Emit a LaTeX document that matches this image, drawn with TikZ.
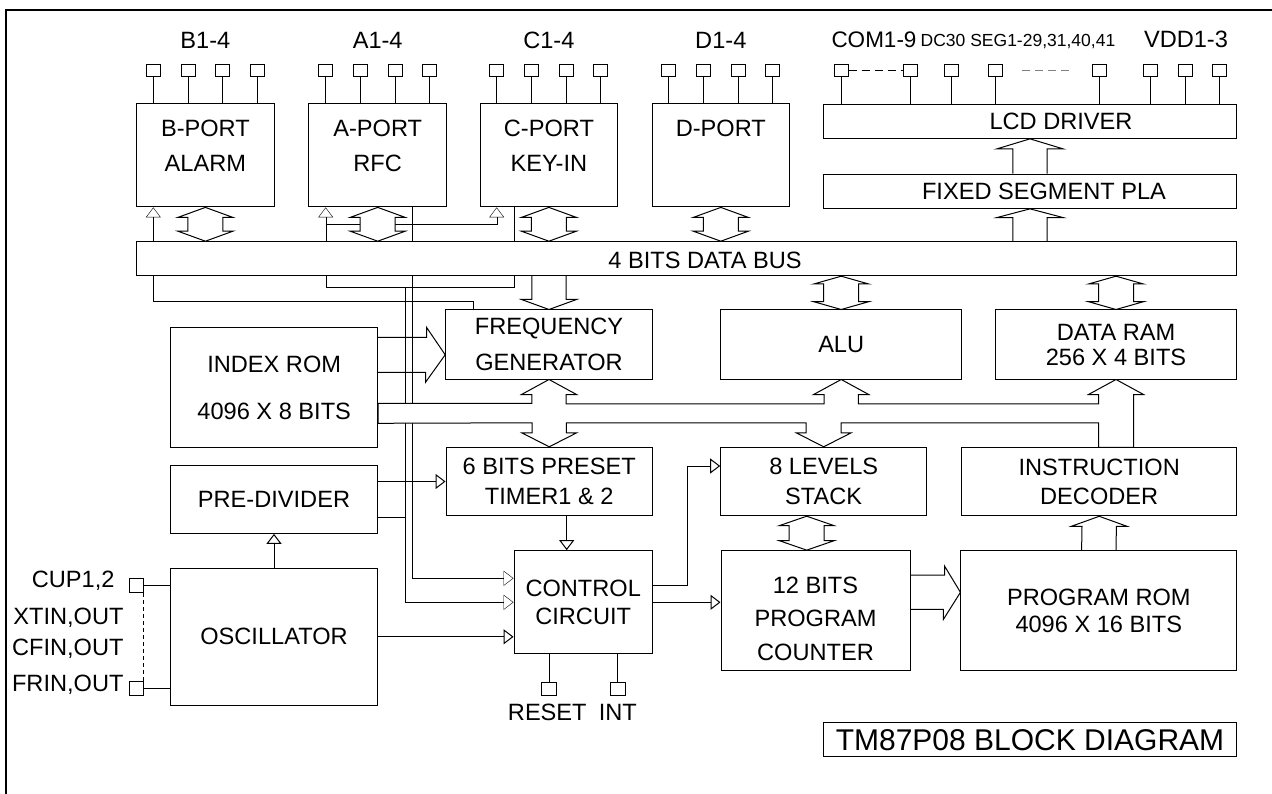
\documentclass[tikz,border=0pt]{standalone}
\usepackage{fontspec}
\setmainfont{Liberation Sans}
\usetikzlibrary{arrows.meta,calc,positioning,backgrounds}

\newcommand\dblarrow[3][10]{%
  \draw[fatfill] #2 -- ++(-27.5,#1) -- ++(10,0) -- ($#3+(-17.5,-#1)$) -- ++(-10,0) -- #3
    -- ++(27.5,-#1) -- ++(-10,0) -- ($#2+(17.5,#1)$) -- ++(10,0) -- cycle;}
\newcommand\vfat[4][10]{%
  \draw[fatline] ($#2+(-17.2,0)$) -- ($#3+(-17.2,#1)$) -- ($#3+(-#4,#1)$) -- #3
    -- ($#3+(#4,#1)$) -- ($#3+(17.2,#1)$) -- ($#2+(17.2,0)$);}

\begin{document}
\begin{tikzpicture}[x=1pt,y=-1pt,line width=1pt,
    every node/.style={inner sep=0pt,font=\fontsize{23.6}{28.3}\selectfont},
    blk/.style={draw,fill=white,align=center},
    txt/.style={align=center},
    padsq/.style={draw,minimum width=14pt,minimum height=12pt},
    tri/.style={-{Triangle[open,width=15pt,length=10pt]}},
    fatline/.style={line join=miter},
    fatfill/.style={fill=white,line join=miter},
    segfont/.style={font=\fontsize{17.5}{21}\selectfont}]
  \useasboundingbox (0,0) rectangle (1272,794);
  \draw[line width=2pt] (6,794) -- (6,10) -- (1272,10);

  \node[blk,minimum width=137.5pt,minimum height=103pt] (bport) at (205.4,155.4) {};
  \node[blk,minimum width=137.5pt,minimum height=103pt] (aport) at (377.7,155.4) {};
  \node[blk,minimum width=137.5pt,minimum height=103pt] (cport) at (548.9,155.4) {};
  \node[blk,minimum width=137.5pt,minimum height=103pt] (dport) at (720.8,155.4) {};
  \node[txt,below=16pt of bport.north] (bport-txt) {B-PORT\\[6.7pt]ALARM};
  \node[txt,below=16pt of aport.north] (aport-txt) {A-PORT\\[6.7pt]RFC};
  \node[txt,below=16pt of cport.north] (cport-txt) {C-PORT\\[6.7pt]KEY-IN};
  \node[txt,below=16pt of dport.north] (dport-txt) {D-PORT};
  \foreach \p/\l in {bport/B1-4,aport/A1-4,cport/C1-4,dport/D1-4}{
    \foreach \i in {1,3,5,7}{
      \node[padsq] (\p\i) at ($(\p.north west)!\i/8!(\p.north east)+(0,-33)$) {};
      \draw (\p\i) -- (\p\i |- \p.north);
    }
    \node[anchor=base] (\p-lbl) at (\p.north |- 0,48.3) {\l};
  }

  \node[blk,minimum width=413.4pt,minimum height=34.3pt] (lcd) at (1030,121.2) {};
  \node (lcd-txt) at ([xshift=31pt]lcd.center) {LCD DRIVER};
  \foreach \x [count=\n] in {841,910,951.7,995.7,1099,1150.7,1185,1219}{
    \node[padsq] (lcd\n) at (\x,71) {};
    \draw (lcd\n) -- (lcd\n |- lcd.north);
  }
  \draw[dash pattern=on 8pt off 5pt] (lcd1) -- (lcd2);
  \draw[gray,dash pattern=on 8pt off 5pt] ([xshift=19pt]lcd4.east) -- ([xshift=-23pt]lcd5.west);
  \node[anchor=base,font=\fontsize{22.5}{27}\selectfont] (com-lbl) at (874,47.3) {COM1-9};
  \node[segfont,anchor=base] (seg-lbl) at (1018,46.7) {DC30 SEG1-29,31,40,41};
  \node[anchor=base] (vdd-lbl) at (1186,47.3) {VDD1-3};

  \node[blk,minimum width=413.4pt,minimum height=34.3pt] (pla) at (1030,191.2) {};
  \node (pla-txt) at ([xshift=14pt]pla.center) {FIXED SEGMENT PLA};
  \node[blk,minimum width=1100pt,minimum height=34pt] (bus) at (686.7,258.7) {};
  \node (bus-txt) at ([xshift=18.3pt,yshift=-2pt]bus.center) {4 BITS DATA BUS};

  \node[blk,minimum width=206.6pt,minimum height=69pt] (freq) at (549,344.5) {FREQUENCY\\[7.4pt]GENERATOR};
  \node[blk,minimum width=241pt,minimum height=69pt] (alu) at (841.2,344.5) {ALU};
  \node[blk,minimum width=241.4pt,minimum height=69pt] (ram) at (1116,344.5) {DATA RAM\\[-3.3pt]256 X 4 BITS};
  \node[blk,minimum width=207pt,minimum height=120pt] (idxrom) at (274.2,387.7) {INDEX ROM\\[18.4pt]4096 X 8 BITS};
  \node[blk,minimum width=206.3pt,minimum height=68.4pt] (timer) at (549.2,481.5) {6 BITS PRESET\\[1.7pt]TIMER1 \& 2};
  \node[blk,minimum width=206pt,minimum height=68.4pt] (stack) at (823.7,481.5) {8 LEVELS\\[1.7pt]STACK};
  \node[blk,minimum width=275pt,minimum height=68pt] (decoder) at (1099.2,481.8) {INSTRUCTION\\DECODER};
  \node[blk,minimum width=206.6pt,minimum height=68.3pt] (prediv) at (274,499.2) {PRE-DIVIDER};
  \node[blk,minimum width=206.6pt,minimum height=137pt] (osc) at (274,636.8) {OSCILLATOR};
  \node[blk,minimum width=138.3pt,minimum height=103.3pt] (ctrl) at (583.2,602.3) {CONTROL\\CIRCUIT};
  \node[blk,minimum width=189pt,minimum height=120.3pt] (pc) at (815.5,610.8) {};
  \node[txt] (pc-txt) at ([yshift=-8pt]pc.center) {12 BITS\\[5.5pt]PROGRAM\\[5.5pt]COUNTER};
  \node[blk,minimum width=275.7pt,minimum height=120.3pt] (prom) at (1098.8,610.8) {PROGRAM ROM\\[-1.6pt]4096 X 16 BITS};
  \node[blk,minimum width=413.4pt,minimum height=34pt,font=\fontsize{30}{36}\selectfont] (title) at (1030,739.7) {TM87P08 BLOCK DIAGRAM};

  \node[padsq,minimum width=13.5pt,minimum height=14pt] (cup) at (136.7,585.3) {};
  \node[padsq,minimum width=13.5pt,minimum height=14pt] (frin) at (136.7,688) {};
  \draw (cup) -- (cup -| osc.west);
  \draw (frin) -- (frin -| osc.west);
  \draw[dash pattern=on 4pt off 3pt] (cup.south east) -- (frin.north east);
  \node[anchor=base east] (cup-lbl) at (115,587.3) {CUP1,2};
  \node[anchor=base east] (xt-lbl) at (124,624) {XTIN,OUT};
  \node[anchor=base east] (cf-lbl) at (124,655) {CFIN,OUT};
  \node[anchor=base east] (fr-lbl) at (124,691.7) {FRIN,OUT};

  \node[padsq,minimum width=15pt,minimum height=13.5pt] (reset) at (549.3,689) {};
  \node[padsq,minimum width=15pt,minimum height=13.5pt] (int) at (617.8,689) {};
  \draw (reset) -- (reset |- ctrl.south);
  \draw (int) -- (int |- ctrl.south);
  \node[below=7.5pt of reset,xshift=-2pt] (reset-lbl) {RESET};
  \node[below=7.5pt of int] (int-lbl) {INT};

  \begin{scope}[on background layer]
    \draw[tri] (freq.north -| 473.3,0) -- ++(0,-8) -| (bport.south -| 153.3,0);
    \draw[tri] (cport.south -| 514,0) -- ++(0,80) -| (aport.south -| 325.7,0);
    \draw[tri] (aport.south -| 325.7,0) ++(0,17.3) -| (cport.south -| 496.7,0);
    \draw[tri] (aport.south -| 405,0) ++(0,80) |- (ctrl.west);
    \draw[tri] (aport.south -| 411.7,0) |- ([yshift=24pt]ctrl.west);
    \draw ([yshift=-17.5pt]prediv.east) -- ++(27.7,0);
  \end{scope}
  \draw[tri] (prediv.east |- timer) -- (timer.west);
  \draw[tri] (osc.north) -- (prediv.south);
  \draw[tri] (osc.east) -- (osc.east -| ctrl.west);
  \draw[tri] ([xshift=-16.5pt]ctrl.north |- timer.south) -- ([xshift=-16.5pt]ctrl.north);
  \draw[tri] ([yshift=17.3pt]ctrl.east) -- ++(34.4,0) |- ([yshift=15.5pt]stack.west);
  \draw[tri] (ctrl.east) -- (ctrl.east -| pc.west);

  \vfat{(pla.north)}{(lcd.south)}{33}
  \vfat[8.7]{(bus.north -| pla)}{(pla.south)}{33}
  \vfat[-10]{(bus.south -| freq)}{(freq.north)}{27.5}
  \vfat{(prom.north)}{(decoder.south)}{27.8}
  \foreach \p in {bport,aport,cport,dport}{\dblarrow{(\p.south)}{(bus.north -| \p.south)}}
  \dblarrow[7.8]{(bus.south -| alu.north)}{(alu.north)}
  \dblarrow[7.8]{(bus.south -| ram.north)}{(ram.north)}
  \dblarrow[9.5]{([xshift=-17pt]stack.south)}{([xshift=-17pt]stack.south |- pc.north)}

  \coordinate (ixtip) at ([yshift=-10.3pt]freq.west);
  \draw[fatline] (idxrom.east |- 0,337.3) -- ++(48.3,0) -- ++(0,-10) -- (ixtip)
    -- ++(-19.7,27.5) -- ++(0,-10) -- (idxrom.east |- 0,372.3);
  \coordinate (pctip) at ([yshift=18.5pt]prom.west);
  \draw[fatline] (pc.east |- 0,575) -- ++(34,0) -- ++(0,-9) -- (pctip)
    -- ++(-17,27) -- ++(0,-10) -- (pc.east |- 0,609.3);

  \draw[fatfill] (idxrom.east |- 0,403.3)
    -| ($(freq.south)+(-17.2,15)$) -- ++(-10.3,0) -- (freq.south) -- ++(27.5,15) -- ++(-10.3,0) -- ++(0,9.3)
    -| ($(alu.south)+(-17.2,15)$) -- ++(-10.3,0) -- (alu.south) -- ++(27.5,15) -- ++(-10.3,0) -- ++(0,9.3)
    -| ($(ram.south)+(-17.5,15)$) -- ++(-10,0) -- (ram.south) -- ++(27.5,15) -- ++(-10,0)
    -- (decoder.north -| 1133.5,0) -- (decoder.north -| 1098.5,0) -- ++(0,-24.5)
    -| ($(stack.north)+(17.5,-14)$) -- ++(10,0) -- (stack.north) -- ++(-27.5,-14) -- ++(10,0) -- ++(0,-10)
    -| ($(timer.north)+(17.2,-14)$) -- ++(10.3,0) -- (timer.north) -- ++(-27.5,-14) -- ++(10.3,0) -- ++(0,-10)
    -- (idxrom.east |- 0,423.3) -- cycle;
\end{tikzpicture}
\end{document}
